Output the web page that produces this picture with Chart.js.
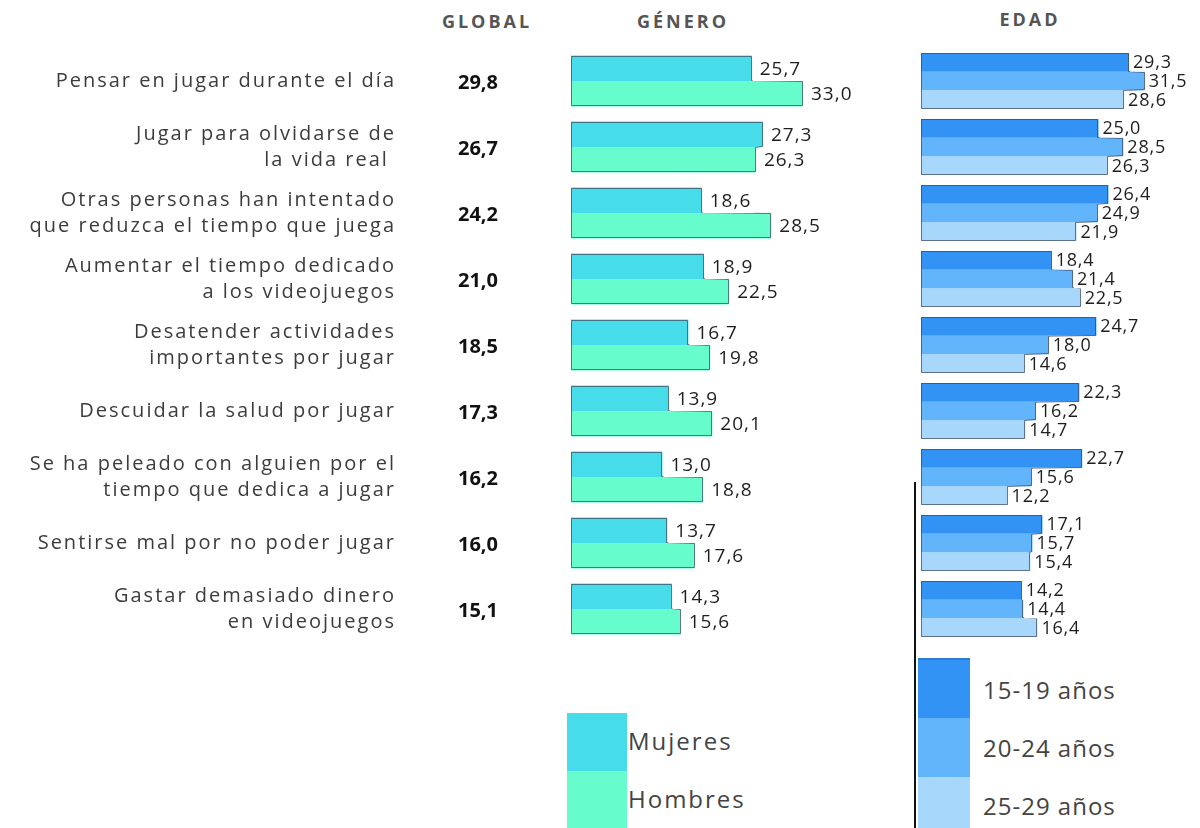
<!DOCTYPE html>
<html>
<head>
<meta charset="utf-8">
<title>Conductas asociadas al juego</title>
<script src="https://cdn.jsdelivr.net/npm/chart.js"></script>
<style>
  body { margin: 0; width: 1200px; height: 828px; background: #fff; position: relative; overflow: hidden; font-family: "Open Sans", sans-serif; }
  .abs { position: absolute; }
  .head { font-weight: 700; font-size: 18px; color: #555; letter-spacing: 3px; transform: translateX(-50%); line-height: 22px; }
  .box { position: absolute; }
  .leg { position: absolute; font-size: 24px; color: #444; letter-spacing: 1px; line-height: 30px; }
</style>
</head>
<body>
  <div class="abs head" style="left:487px; top:10px;">GLOBAL</div>
  <div class="abs head" style="left:683px; top:10px;">GÉNERO</div>
  <div class="abs head" style="left:1030px; top:8px;">EDAD</div>

  <canvas id="generoChart" class="abs" style="left:0; top:48px;" width="900" height="594"></canvas>
  <canvas id="edadChart" class="abs" style="left:921px; top:48px;" width="279" height="594"></canvas>

  <!-- leyenda género -->
  <div class="box" style="left:567px; top:713px; width:60px; height:58px; background:#46dce9;"></div>
  <div class="box" style="left:567px; top:771px; width:60px; height:57px; background:#67fccc;"></div>
  <div class="leg" style="left:628px; top:726px; letter-spacing:2px;">Mujeres</div>
  <div class="leg" style="left:628px; top:784px; letter-spacing:2px;">Hombres</div>

  <!-- leyenda edad -->
  <div class="box" style="left:914px; top:482px; width:2px; height:346px; background:#111;"></div>
  <div class="box" style="left:918px; top:658px; width:52px; height:58px; background:#3393f5; border-top:2px solid #2b7bd6;"></div>
  <div class="box" style="left:918px; top:718px; width:52px; height:59px; background:#62b5fb;"></div>
  <div class="box" style="left:918px; top:777px; width:52px; height:51px; background:#a8d7fc;"></div>
  <div class="leg" style="left:983px; top:675px;">15-19 años</div>
  <div class="leg" style="left:983px; top:733px;">20-24 años</div>
  <div class="leg" style="left:983px; top:791px;">25-29 años</div>

<script>
  const categories = [
    'Pensar en jugar durante el día',
    ['Jugar para olvidarse de', 'la vida real '],
    ['Otras personas han intentado', 'que reduzca el tiempo que juega'],
    ['Aumentar el tiempo dedicado', 'a los videojuegos'],
    ['Desatender actividades', 'importantes por jugar'],
    'Descuidar la salud por jugar',
    ['Se ha peleado con alguien por el', 'tiempo que dedica a jugar'],
    'Sentirse mal por no poder jugar',
    ['Gastar demasiado dinero', 'en videojuegos']
  ];
  const globalValues = [29.8, 26.7, 24.2, 21.0, 18.5, 17.3, 16.2, 16.0, 15.1];
  const mujeres = [25.7, 27.3, 18.6, 18.9, 16.7, 13.9, 13.0, 13.7, 14.3];
  const hombres = [33.0, 26.3, 28.5, 22.5, 19.8, 20.1, 18.8, 17.6, 15.6];
  const edad15a19 = [29.3, 25.0, 26.4, 18.4, 24.7, 22.3, 22.7, 17.1, 14.2];
  const edad20a24 = [31.5, 28.5, 24.9, 21.4, 18.0, 16.2, 15.6, 15.7, 14.4];
  const edad25a29 = [28.6, 26.3, 21.9, 22.5, 14.6, 14.7, 12.2, 15.4, 16.4];

  const fmt = v => v.toFixed(1).replace('.', ',');

  // wider letter spacing for every text drawn by the chart itself (tick labels)
  const spacing = {
    id: 'spacing',
    beforeDraw(chart, args, opts) { chart.ctx.letterSpacing = opts.value || '0px'; }
  };

  // one outline around each group of bars, following the steps between them
  const groupOutline = {
    id: 'groupOutline',
    afterDatasetsDraw(chart) {
      const ctx = chart.ctx;
      const metas = chart.data.datasets.map((d, i) => chart.getDatasetMeta(i));
      ctx.save();
      ctx.strokeStyle = 'rgba(60,70,90,0.7)';
      ctx.lineWidth = 1;
      chart.data.labels.forEach((lab, i) => {
        const bars = metas.map(m => m.data[i]);
        const base = Math.round(bars[0].base) + 0.5;
        const first = bars[0], last = bars[bars.length - 1];
        ctx.beginPath();
        ctx.moveTo(base, Math.round(first.y - first.height / 2) + 0.5);
        bars.forEach(b => {
          const x = Math.round(b.x) - 0.5;
          ctx.lineTo(x, Math.round(b.y - b.height / 2) + 0.5);
          ctx.lineTo(x, Math.round(b.y + b.height / 2) - 0.5);
        });
        ctx.lineTo(base, Math.round(last.y + last.height / 2) - 0.5);
        ctx.closePath();
        ctx.stroke();
      });
      ctx.restore();
    }
  };

  // value at the end of each bar, on a white patch
  const valueLabels = {
    id: 'valueLabels',
    afterDatasetsDraw(chart, args, opts) {
      const ctx = chart.ctx;
      ctx.save();
      ctx.letterSpacing = opts.spacing;
      ctx.font = opts.font;
      ctx.textBaseline = 'middle';
      chart.data.datasets.forEach((ds, di) => {
        chart.getDatasetMeta(di).data.forEach((bar, i) => {
          const txt = fmt(ds.data[i]);
          const w = ctx.measureText(txt).width;
          const x = bar.x + opts.gap;
          ctx.fillStyle = '#fff';
          ctx.fillRect(bar.x + 1, bar.y - bar.height / 2 + 1, w + opts.gap + 2, bar.height - 1);
          ctx.fillStyle = '#1e1e1e';
          ctx.fillText(txt, x, bar.y + 1);
        });
      });
      ctx.restore();
    }
  };

  // the GLOBAL column, placed on the category positions of the y scale
  const globalColumn = {
    id: 'globalColumn',
    afterDraw(chart) {
      const ctx = chart.ctx;
      const y = chart.scales.y;
      ctx.save();
      ctx.letterSpacing = '0px';
      ctx.font = '700 20px "Open Sans"';
      ctx.fillStyle = '#111';
      ctx.textAlign = 'center';
      ctx.textBaseline = 'middle';
      globalValues.forEach((v, i) => {
        ctx.fillText(fmt(v), 478, y.getPixelForValue(i) + 2);
      });
      ctx.restore();
    }
  };

  new Chart(document.getElementById('generoChart'), {
    type: 'bar',
    data: {
      labels: categories,
      datasets: [
        { label: 'Mujeres', data: mujeres, backgroundColor: '#46dce9' },
        { label: 'Hombres', data: hombres, backgroundColor: '#67fccc' }
      ]
    },
    options: {
      indexAxis: 'y',
      responsive: false,
      animation: false,
      layout: { padding: 0 },
      datasets: { bar: { categoryPercentage: 0.77, barPercentage: 1, borderWidth: 0 } },
      scales: {
        x: { display: false, min: 0, max: 46.8 },
        y: {
          // fixed axis width; the labels must not push the plot area inwards
          afterFit: scale => {
            scale.width = 571;
            scale.paddingTop = 0;
            scale.paddingBottom = 0;
          },
          // the tick length (not drawn) keeps the labels clear of the GLOBAL column
          grid: { display: false, drawTicks: true, tickLength: 169 },
          border: { display: false },
          ticks: {
            padding: 6,
            color: '#3c3c3c',
            font: { family: '"Open Sans"', size: 20, lineHeight: 1.3 }
          }
        }
      },
      plugins: {
        legend: { display: false },
        tooltip: { enabled: false },
        spacing: { value: '2px' },
        valueLabels: { font: '19px "Open Sans"', spacing: '1px', gap: 8 }
      }
    },
    plugins: [spacing, groupOutline, valueLabels, globalColumn]
  });

  new Chart(document.getElementById('edadChart'), {
    type: 'bar',
    data: {
      labels: categories,
      datasets: [
        { label: '15-19 años', data: edad15a19, backgroundColor: '#3393f5' },
        { label: '20-24 años', data: edad20a24, backgroundColor: '#62b5fb' },
        { label: '25-29 años', data: edad25a29, backgroundColor: '#a8d7fc' }
      ]
    },
    options: {
      indexAxis: 'y',
      responsive: false,
      animation: false,
      layout: { padding: 0 },
      datasets: { bar: { categoryPercentage: 0.85, barPercentage: 1, borderWidth: 0 } },
      scales: {
        x: { display: false, min: 0, max: 39.3 },
        y: { display: false }
      },
      plugins: {
        legend: { display: false },
        tooltip: { enabled: false },
        valueLabels: { font: '18px "Open Sans"', spacing: '0.8px', gap: 4 }
      }
    },
    plugins: [groupOutline, valueLabels]
  });
</script>
</body>
</html>
